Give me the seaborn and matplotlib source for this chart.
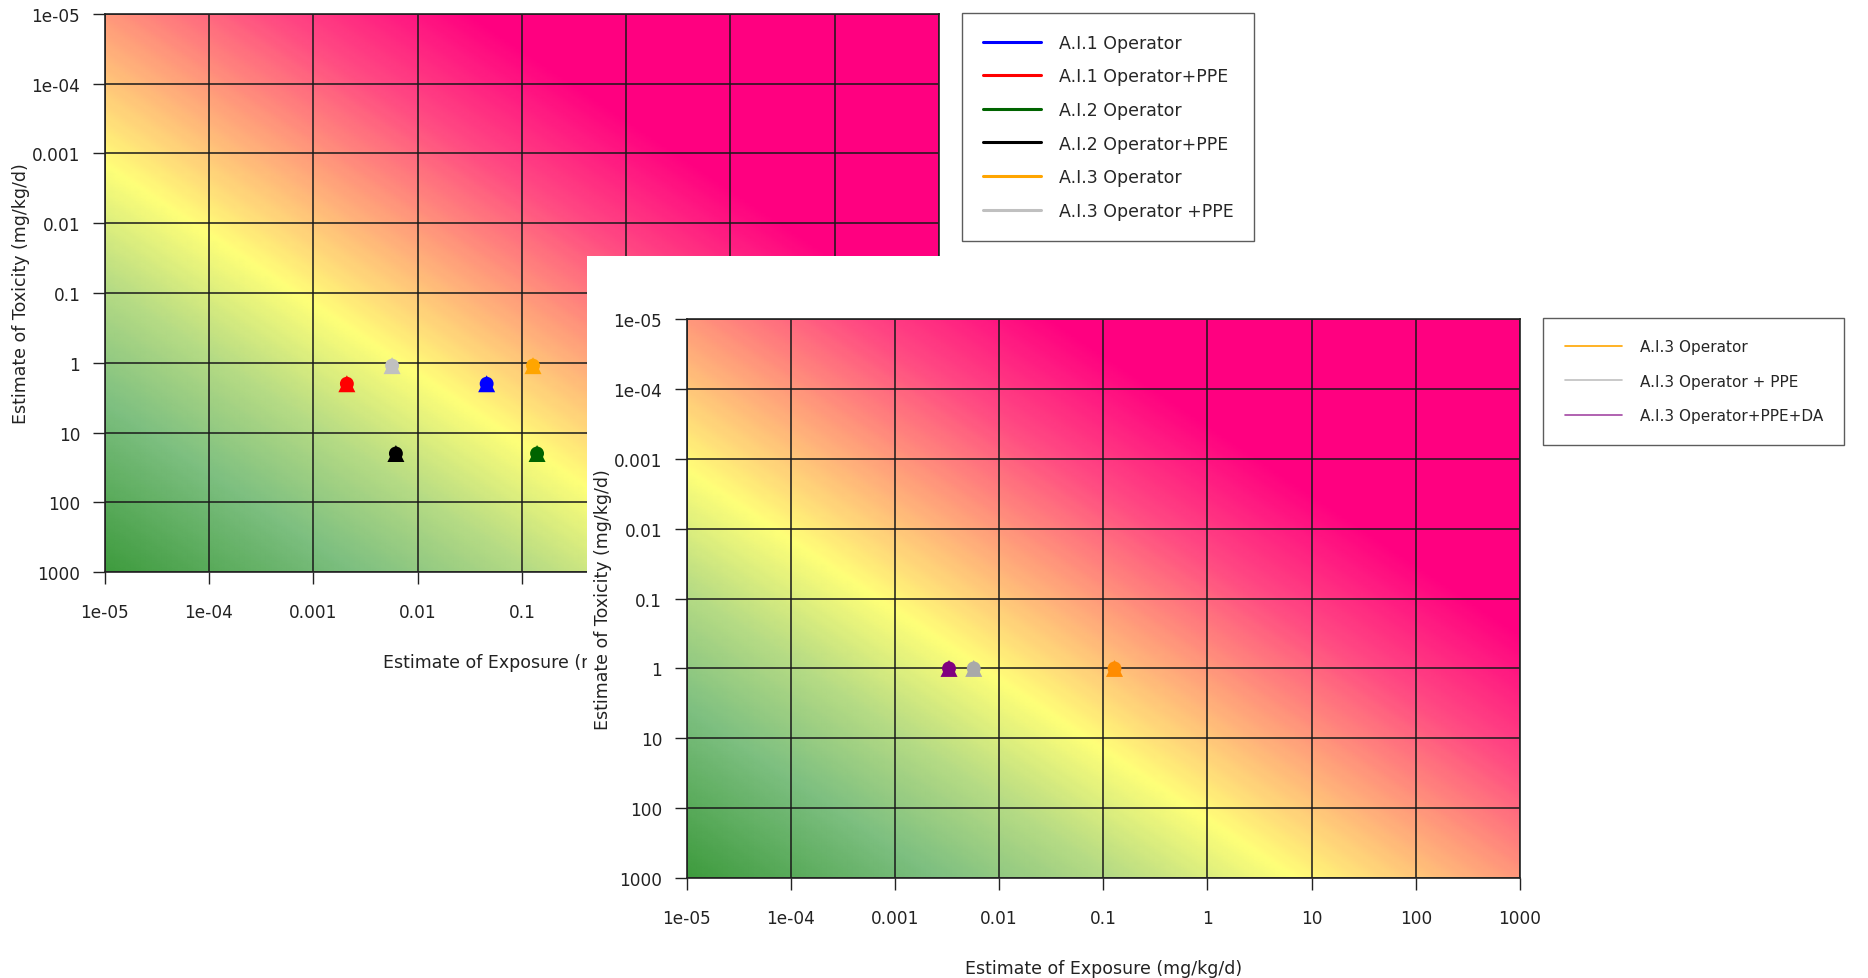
import numpy as np
import pandas as pd
import matplotlib
matplotlib.use("Agg")
import matplotlib.pyplot as plt
import seaborn as sns
from matplotlib.colors import LinearSegmentedColormap
from matplotlib.lines import Line2D
from matplotlib.patches import Rectangle
from matplotlib.transforms import Bbox, TransformedBbox

# ---- data ----
tick_values = [1e-05, 1e-04, 0.001, 0.01, 0.1, 1, 10, 100, 1000]
tick_labels = ["1e-05", "1e-04", "0.001", "0.01", "0.1", "1", "10", "100", "1000"]

# back chart
series1 = ["A.I.1 Operator", "A.I.1 Operator+PPE", "A.I.2 Operator",
           "A.I.2 Operator+PPE", "A.I.3 Operator", "A.I.3 Operator +PPE"]
exposure1 = [0.046, 0.0021, 0.14, 0.0062, 0.128, 0.0057]
toxicity1 = [2, 2, 20, 20, 1.1, 1.1]
colors1 = ["blue", "red", "darkgreen", "black", "orange", "silver"]

# front chart
series2 = ["A.I.3 Operator", "A.I.3 Operator + PPE", "A.I.3 Operator+PPE+DA"]
exposure2 = [0.128, 0.0057, 0.0033]
toxicity2 = [1, 1, 1]
colors2 = ["darkorange", "darkgray", "purple"]
legend_colors2 = ["orange", "silver", "#a347a3"]

# risk background: green -> yellow -> magenta along the diagonal
risk_cmap = LinearSegmentedColormap.from_list("risk", [
    (0.0, "#3e9b3e"), (0.15, "#7dbf80"), (0.26, "#b8dc84"), (0.365, "#ffff78"),
    (0.49, "#ffa07a"), (0.6, "#ff4a82"), (0.72, "#ff0080"), (1.0, "#ff0080")])

sns.set_theme(style="white")
plt.rcParams["font.family"] = ["DejaVu Sans"]
FS = 12.5
TICK_FS = 12.2

fig = plt.figure(figsize=(18.68, 9.79), dpi=100)


def draw_panel(ax, names, xs, ys, colors, legend_colors, legend_kw):
    # smooth background
    gx = np.logspace(-5, 3, 161)
    gy = np.logspace(-5, 3, 161)
    GX, GY = np.meshgrid(gx, gy)
    score = (np.log10(GX) + 5) + (3 - np.log10(GY))
    ax.pcolormesh(GX, GY, score, cmap=risk_cmap, vmin=0, vmax=16,
                  shading="gouraud", zorder=0, rasterized=True)

    df = pd.DataFrame({"series": names, "exposure": xs, "toxicity": ys})
    pal = dict(zip(names, colors))
    sns.scatterplot(data=df, x="exposure", y="toxicity", hue="series",
                    palette=pal, marker="^", s=150, linewidth=0,
                    legend=False, ax=ax, zorder=3)
    sns.scatterplot(data=df, x="exposure", y="toxicity", hue="series",
                    palette=pal, marker="o", s=100, linewidth=0,
                    legend=False, ax=ax, zorder=3)

    ax.set_xscale("log")
    ax.set_yscale("log")
    ax.set_xlim(1e-5, 1000)
    ax.set_ylim(1000, 1e-5)
    ax.set_xticks(tick_values, tick_labels)
    ax.set_yticks(tick_values, tick_labels)
    ax.minorticks_off()
    ax.grid(True, color="#1a1a1a", linewidth=1.1)
    ax.tick_params(axis="both", which="major", length=8.6, width=1.0,
                   color="#222222", labelsize=TICK_FS, labelcolor="#222222")
    ax.tick_params(axis="x", pad=13.5, bottom=True)
    ax.tick_params(axis="y", pad=9, left=True)
    for sp in ax.spines.values():
        sp.set_color("#222222")
        sp.set_linewidth(1.2)

    ax.set_xlabel("Estimate of Exposure (mg/kg/d)", fontsize=FS, color="#222222")
    ax.set_ylabel("Estimate of Toxicity (mg/kg/d)", fontsize=FS, color="#222222")
    ax.xaxis.set_label_coords(0.5, -0.161)
    ax.xaxis.label.set_va("center")
    ax.yaxis.set_label_coords(-0.1005, 0.5)
    ax.yaxis.label.set_va("center")

    lw = legend_kw.pop("lw")
    handles = [Line2D([], [], color=c, lw=lw) for c in legend_colors]
    leg = ax.legend(handles, names, loc="upper left", bbox_to_anchor=(1.028, 1.002),
                    borderaxespad=0, frameon=True, fancybox=False, **legend_kw)
    leg.get_frame().set_edgecolor("#333333")
    leg.get_frame().set_linewidth(1.0)
    return ax


ax1 = fig.add_axes([0.05605, 0.4147, 0.4466, 0.570])
ax1.set_zorder(0)
draw_panel(ax1, series1, exposure1, toxicity1, colors1, colors1,
           dict(lw=2.2, fontsize=12.5, handlelength=3.35, handletextpad=1.0,
                labelspacing=0.9, borderpad=1.2))

# white sheet of the second figure lying on top of the first one
sheet_x = 0.3142
fig.add_artist(Rectangle((sheet_x, 0.0), 1 - sheet_x, 0.7375, transform=fig.transFigure,
                         facecolor="white", edgecolor="none", zorder=1))
# the back chart's x label is cut by the sheet
ax1.xaxis.label.set_clip_box(TransformedBbox(Bbox.from_extents(0, 0, sheet_x, 1),
                                             fig.transFigure))
ax1.xaxis.label.set_clip_on(True)

ax2 = fig.add_axes([0.3676, 0.1021, 0.4461, 0.571])
ax2.set_zorder(2)
draw_panel(ax2, series2, exposure2, toxicity2, colors2, legend_colors2,
           dict(lw=1.2, fontsize=11, handlelength=3.75, handletextpad=1.15,
                labelspacing=1.27, borderpad=1.4))

fig.savefig("out.png", dpi=100)
plt.close(fig)
